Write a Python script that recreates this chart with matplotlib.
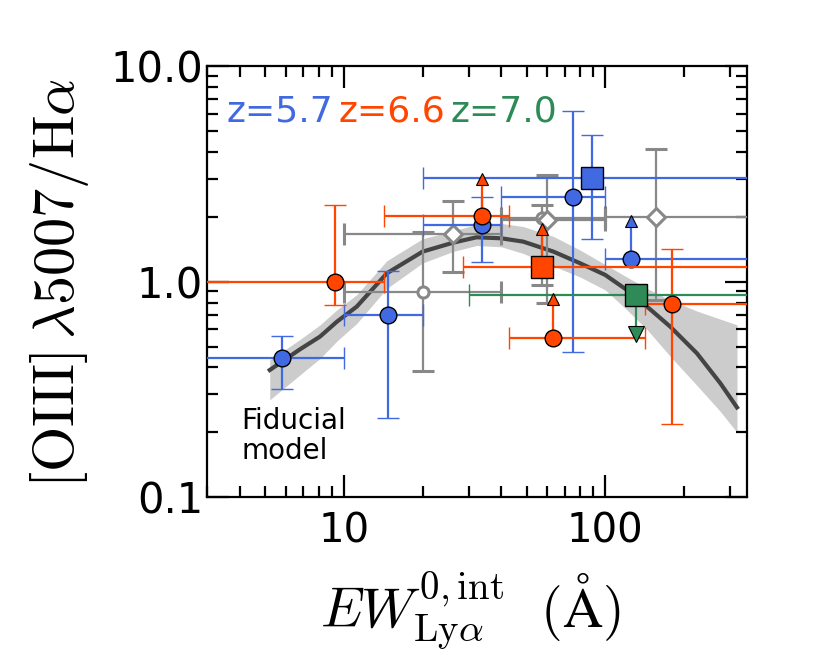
import numpy as np
import matplotlib
matplotlib.use("Agg")
import matplotlib.pyplot as plt
from matplotlib.ticker import FixedLocator, FixedFormatter, LogLocator, NullFormatter

plt.rcParams['font.family'] = ['DejaVu Sans']
plt.rcParams['mathtext.fontset'] = 'cm'

# ---------------- data ----------------
# Fiducial model curve and its band
model_x = [5.2, 6.8, 8.1, 9.4, 11.2, 14.6, 20.0, 26.2, 32.2, 40.0, 48.6, 63.4, 80.2, 100.0, 121.0, 144.5, 177.5, 224.5, 275.8, 319.5]
model_y = [0.389, 0.486, 0.556, 0.652, 0.766, 1.093, 1.377, 1.516, 1.605, 1.588, 1.532, 1.377, 1.216, 1.074, 0.915, 0.766, 0.618, 0.465, 0.338, 0.261]
band_lo = [0.283, 0.37, 0.44, 0.53, 0.64, 0.93, 1.22, 1.38, 1.47, 1.45, 1.35, 1.18, 1.05, 0.915, 0.74, 0.60, 0.45, 0.33, 0.25, 0.20]
band_hi = [0.433, 0.54, 0.63, 0.74, 0.87, 1.25, 1.58, 1.72, 1.84, 1.86, 1.80, 1.62, 1.40, 1.20, 1.05, 0.93, 0.82, 0.73, 0.67, 0.63]

# z=5.7 (blue) circles
blue_x = [5.8, 14.8, 33.7, 75.6]
blue_y = [0.444, 0.70, 1.83, 2.47]
blue_xlo = [1.0, 10.0, 20.0, 40.0]
blue_xhi = [10.0, 20.0, 40.0, 100.0]
blue_ylo = [0.317, 0.234, 1.23, 0.473]
blue_yhi = [0.562, 1.12, 2.47, 6.18]
# z=5.7 lower limit
bluelim_x = [126.0]
bluelim_y = [1.27]
bluelim_xlo = [100.0]
bluelim_xhi = [1000.0]
bluelim_tip = [1.91]
# z=5.7 stack (square)
bluesq_x = [88.9]
bluesq_y = [3.02]
bluesq_xlo = [20.0]
bluesq_xhi = [1000.0]
bluesq_ylo = [1.577]
bluesq_yhi = [4.80]

# z=6.6 (orange) circles
orange_x = [9.24, 180.0]
orange_y = [1.0, 0.788]
orange_xlo = [1.0, 142.0]
orange_xhi = [14.2, 1000.0]
orange_ylo = [0.78, 0.219]
orange_yhi = [2.26, 1.41]
# z=6.6 lower limits
orangelim_x = [33.7, 63.0]
orangelim_y = [2.01, 0.55]
orangelim_xlo = [14.2, 43.0]
orangelim_xhi = [42.8, 142.6]
orangelim_tip = [2.99, 0.828]
# z=6.6 stack (square), lower limit
orangesq_x = [57.2]
orangesq_y = [1.17]
orangesq_xlo = [28.6]
orangesq_xhi = [1000.0]
orangesq_tip = [1.76]

# z=7.0 stack (square), upper limit
greensq_x = [131.0]
greensq_y = [0.867]
greensq_xlo = [30.0]
greensq_xhi = [1000.0]
greensq_tip = [0.572]

# literature (gray) open circles
gc_x = [20.0, 57.2]
gc_y = [0.892, 1.97]
gc_xlo = [10.0, 40.0]
gc_xhi = [40.0, 100.0]
gc_ylo = [0.385, 0.965]
gc_yhi = [1.70, 2.26]
# literature (gray) open diamonds
gd_x = [26.2, 59.8, 156.0]
gd_y = [1.66, 1.94, 2.0]
gd_xlo = [10.0, 40.0, 100.0]
gd_xhi = [40.0, 100.0, 1000.0]
gd_ylo = [1.108, 0.798, 0.82]
gd_yhi = [2.36, 3.12, 4.14]

BLUE = '#4169E1'
ORANGE = '#FF4500'
GREEN = '#2E8B57'
GRAY = '#888888'

fig = plt.figure(figsize=(8.3, 6.64), dpi=100)
ax = fig.add_axes([0.2498, 0.2511, 0.6506, 0.6496])
ax.set_xscale('log')
ax.set_yscale('log')


def errs(v, lo, hi):
    v = np.asarray(v, float)
    return np.vstack([v - np.asarray(lo, float), np.asarray(hi, float) - v])


ekw = dict(elinewidth=1.6, capsize=8, capthick=1.6, ls='none')

# band + model
ax.fill_between(model_x, band_lo, band_hi, color='#cccccc', lw=0, zorder=1)
ax.plot(model_x, model_y, color='#444444', lw=3, zorder=2)

# gray literature points
ax.errorbar(gc_x, gc_y, xerr=errs(gc_x, gc_xlo, gc_xhi), yerr=errs(gc_y, gc_ylo, gc_yhi),
            fmt='o', ms=8, mfc='white', mec=GRAY, mew=2.2, ecolor=GRAY, zorder=3, **ekw)
ax.errorbar(gd_x, gd_y, xerr=errs(gd_x, gd_xlo, gd_xhi), yerr=errs(gd_y, gd_ylo, gd_yhi),
            fmt='D', ms=9, mfc='white', mec=GRAY, mew=2.2, ecolor=GRAY, zorder=3, **ekw)

# blue
ax.errorbar(blue_x, blue_y, xerr=errs(blue_x, blue_xlo, blue_xhi), yerr=errs(blue_y, blue_ylo, blue_yhi),
            fmt='o', ms=12, mfc=BLUE, mec='k', mew=1, ecolor=BLUE, zorder=4, **ekw)
for x, y, t in zip(bluelim_x, bluelim_y, bluelim_tip):
    ax.plot([x, x], [y, t], color=BLUE, lw=1.6, zorder=4)
    ax.plot([x], [t], marker='^', ms=8, mfc=BLUE, mec='k', mew=0.8, ls='none', zorder=5)
ax.errorbar(bluelim_x, bluelim_y, xerr=errs(bluelim_x, bluelim_xlo, bluelim_xhi),
            fmt='o', ms=12, mfc=BLUE, mec='k', mew=1, ecolor=BLUE, zorder=4, **ekw)
ax.errorbar(bluesq_x, bluesq_y, xerr=errs(bluesq_x, bluesq_xlo, bluesq_xhi), yerr=errs(bluesq_y, bluesq_ylo, bluesq_yhi),
            fmt='s', ms=16.5, mfc=BLUE, mec='k', mew=1, ecolor=BLUE, zorder=4, **ekw)

# orange
ax.errorbar(orange_x, orange_y, xerr=errs(orange_x, orange_xlo, orange_xhi), yerr=errs(orange_y, orange_ylo, orange_yhi),
            fmt='o', ms=12, mfc=ORANGE, mec='k', mew=1, ecolor=ORANGE, zorder=6, **ekw)
for x, y, t in zip(orangelim_x, orangelim_y, orangelim_tip):
    ax.plot([x, x], [y, t], color=ORANGE, lw=1.6, zorder=6)
    ax.plot([x], [t], marker='^', ms=8, mfc=ORANGE, mec='k', mew=0.8, ls='none', zorder=7)
ax.errorbar(orangelim_x, orangelim_y, xerr=errs(orangelim_x, orangelim_xlo, orangelim_xhi),
            fmt='o', ms=12, mfc=ORANGE, mec='k', mew=1, ecolor=ORANGE, zorder=6, **ekw)
for x, y, t in zip(orangesq_x, orangesq_y, orangesq_tip):
    ax.plot([x, x], [y, t], color=ORANGE, lw=1.6, zorder=6)
    ax.plot([x], [t], marker='^', ms=8, mfc=ORANGE, mec='k', mew=0.8, ls='none', zorder=7)
ax.errorbar(orangesq_x, orangesq_y, xerr=errs(orangesq_x, orangesq_xlo, orangesq_xhi),
            fmt='s', ms=16.5, mfc=ORANGE, mec='k', mew=1, ecolor=ORANGE, zorder=6, **ekw)

# green
for x, y, t in zip(greensq_x, greensq_y, greensq_tip):
    ax.plot([x, x], [y, t], color=GREEN, lw=1.6, zorder=6)
    ax.plot([x], [t], marker='v', ms=12, mfc=GREEN, mec='k', mew=0.8, ls='none', zorder=7)
ax.errorbar(greensq_x, greensq_y, xerr=errs(greensq_x, greensq_xlo, greensq_xhi),
            fmt='s', ms=16.5, mfc=GREEN, mec='k', mew=1, ecolor=GREEN, zorder=6, **ekw)

# axes
ax.set_xlim(3, 350)
ax.set_ylim(0.1, 10)
ax.xaxis.set_major_locator(FixedLocator([10, 100]))
ax.xaxis.set_major_formatter(FixedFormatter(['10', '100']))
ax.xaxis.set_minor_locator(LogLocator(base=10, subs=np.arange(2, 10)))
ax.xaxis.set_minor_formatter(NullFormatter())
ax.yaxis.set_major_locator(FixedLocator([0.1, 1, 10]))
ax.yaxis.set_major_formatter(FixedFormatter(['0.1', '1.0', '10.0']))
ax.yaxis.set_minor_locator(LogLocator(base=10, subs=np.arange(2, 10)))
ax.yaxis.set_minor_formatter(NullFormatter())
ax.tick_params(which='both', direction='in', top=True, right=True, width=1.6)
ax.tick_params(which='major', length=16)
ax.tick_params(which='minor', length=8)
ax.tick_params(axis='x', which='major', labelsize=29, pad=10)
ax.tick_params(axis='y', which='major', labelsize=30, pad=3)
for s in ax.spines.values():
    s.set_linewidth(1.6)

ax.set_ylabel(r'$[\mathrm{OIII}]\,\lambda5007/\mathrm{H}\alpha$', fontsize=42)
ax.yaxis.set_label_coords(-0.215, 0.497)
ax.set_xlabel(r'$EW^{0,\mathrm{int}}_{\mathrm{Ly}\alpha}\ \ (\mathrm{\AA})$', fontsize=40)
ax.xaxis.set_label_coords(0.486, -0.17)

ax.text(0.036, 0.871, 'z=5.7', color=BLUE, fontsize=26, transform=ax.transAxes, va='baseline', ha='left')
ax.text(0.2426, 0.871, 'z=6.6', color=ORANGE, fontsize=26, transform=ax.transAxes, va='baseline', ha='left')
ax.text(0.4507, 0.871, 'z=7.0', color=GREEN, fontsize=26, transform=ax.transAxes, va='baseline', ha='left')
ax.text(0.0637, 0.158, 'Fiducial', color='k', fontsize=20, transform=ax.transAxes, va='baseline', ha='left')
ax.text(0.0637, 0.088, 'model', color='k', fontsize=20, transform=ax.transAxes, va='baseline', ha='left')

fig.savefig('out.png', dpi=100)
